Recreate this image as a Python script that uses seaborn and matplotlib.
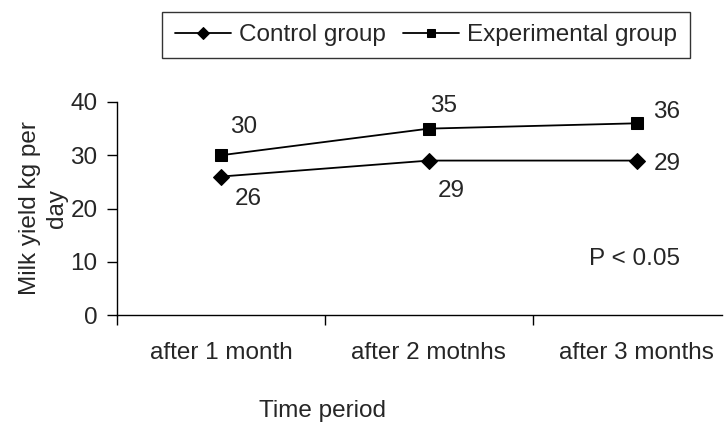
import pandas as pd
import matplotlib.pyplot as plt
import seaborn as sns

# data
periods = ["after 1 month", "after 2 motnhs", "after 3 months"]
control = [26, 29, 29]
experimental = [30, 35, 36]

sns.set_style("ticks")
plt.rcParams["font.family"] = ["Liberation Sans", "DejaVu Sans"]
FS = 17.5

df = pd.DataFrame({
    "period": periods * 2,
    "yield": control + experimental,
    "group": ["Control group"] * 3 + ["Experimental group"] * 3,
})

fig = plt.figure(figsize=(7.28, 4.22), dpi=100)
ax = fig.add_axes([117 / 728, 1 - 315 / 422, 605 / 728, 213 / 422])

sns.lineplot(data=df, x="period", y="yield", hue="group", style="group",
             markers={"Control group": "D", "Experimental group": "s"},
             dashes=False, palette=["black", "black"], markersize=8,
             linewidth=1.3, markeredgecolor="black", ax=ax, legend=True)

ax.set_xlim(-0.5, 2.41)
ax.set_ylim(0, 40)
ax.set_yticks([0, 10, 20, 30, 40])
ax.set_xticks([-0.5, 0.5, 1.5])
ax.set_xticklabels(["", "", ""])
for i, p in enumerate(periods):
    ax.text(i, -0.18, p, transform=ax.get_xaxis_transform(), ha="center",
            va="center", fontsize=FS)
ax.tick_params(axis="both", labelsize=FS, length=7, width=1, color="black", pad=7)
ax.set_xlabel("")
ax.text(0.49, -0.45, "Time period", transform=ax.get_xaxis_transform(),
        ha="center", va="center", fontsize=FS)
ax.set_ylabel("Milk yield kg per\nday", fontsize=FS, labelpad=2,
              linespacing=1.25)
sns.despine(ax=ax)
for s in ["left", "bottom"]:
    ax.spines[s].set_linewidth(1)
    ax.spines[s].set_color("black")

# value labels
offsets_c = [(27, -22), (22, -30), (30, -3)]
offsets_e = [(23, 28), (15, 23), (30, 11)]
for i, v in enumerate(control):
    ax.annotate(str(v), (i, v), xytext=offsets_c[i], textcoords="offset pixels",
                ha="center", va="center", fontsize=FS)
for i, v in enumerate(experimental):
    ax.annotate(str(v), (i, v), xytext=offsets_e[i], textcoords="offset pixels",
                ha="center", va="center", fontsize=FS)

ax.text(1.99, 10.5, "P < 0.05", ha="center", va="center", fontsize=FS)

handles, labels = ax.get_legend_handles_labels()
ax.get_legend().remove()
fig.legend(handles, labels, loc="center", bbox_to_anchor=(426 / 728, 1 - 35 / 422),
           ncol=2, fontsize=FS, frameon=True, fancybox=False, edgecolor="black",
           handlelength=2.3, handletextpad=0.35, columnspacing=0.7,
           borderpad=0.5, markerscale=0.75)

fig.savefig("out.png", dpi=100)
